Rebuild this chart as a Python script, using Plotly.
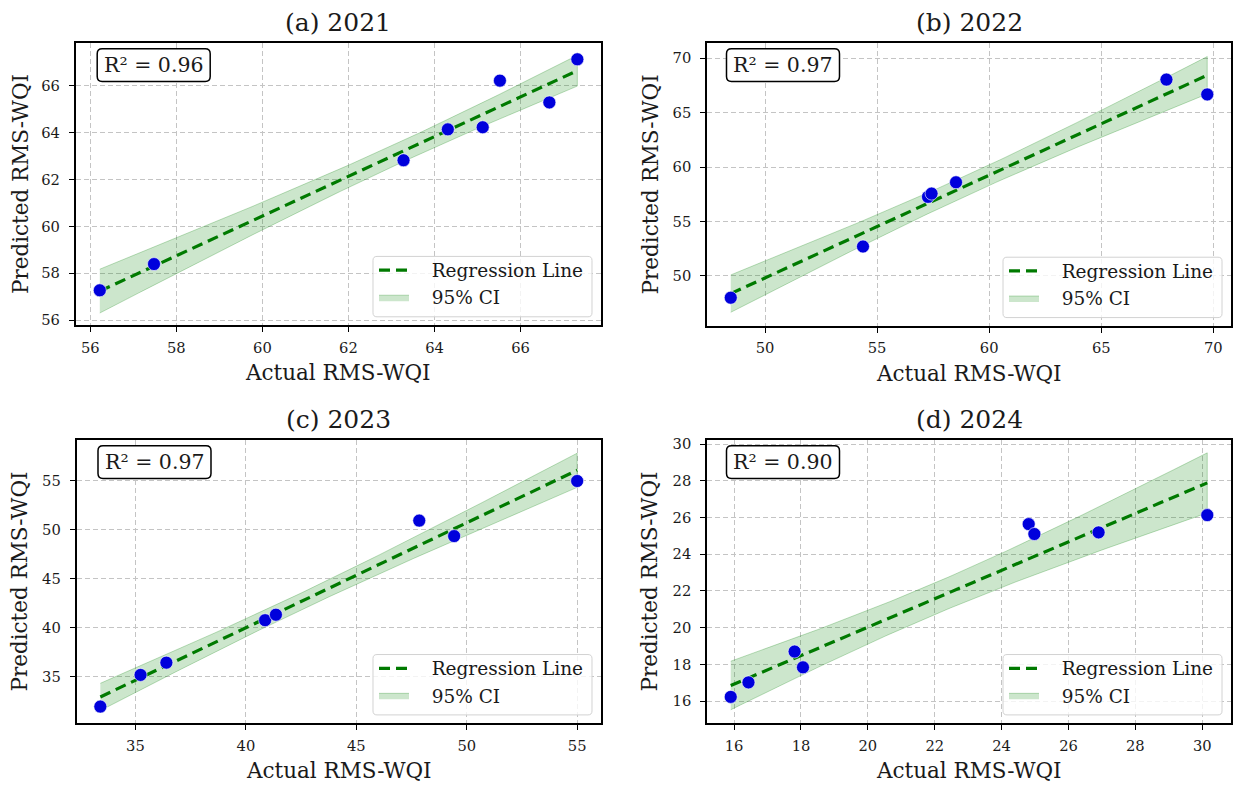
import numpy as np
import plotly.graph_objects as go

# ---------------- data ----------------
titles = ["(a) 2021", "(b) 2022", "(c) 2023", "(d) 2024"]
r2_labels = ["R\u00b2 = 0.96", "R\u00b2 = 0.97", "R\u00b2 = 0.97", "R\u00b2 = 0.90"]

actual_2021 = [56.22, 57.48, 63.28, 64.31, 65.12, 65.52, 66.67, 67.32]
pred_2021 = [57.27, 58.39, 62.82, 64.14, 64.23, 66.22, 65.29, 67.13]

actual_2022 = [48.47, 54.37, 57.27, 57.43, 58.52, 67.91, 69.73]
pred_2022 = [48.00, 52.70, 57.26, 57.56, 58.60, 68.03, 66.67]

actual_2023 = [33.41, 35.23, 36.40, 40.87, 41.36, 47.85, 49.43, 55.00]
pred_2023 = [31.97, 35.20, 36.45, 40.78, 41.34, 50.94, 49.36, 54.98]

actual_2024 = [15.90, 16.43, 17.81, 18.06, 24.81, 24.98, 26.90, 30.15]
pred_2024 = [16.23, 17.02, 18.70, 17.84, 25.64, 25.10, 25.19, 26.13]

actual_sets = [actual_2021, actual_2022, actual_2023, actual_2024]
pred_sets = [pred_2021, pred_2022, pred_2023, pred_2024]

x_label = "Actual RMS-WQI"
y_label = "Predicted RMS-WQI"
legend_names = ["Regression Line", "95% CI"]

# ---------------- layout geometry (pixels) ----------------
W, H = 1235, 788
boxes = [  # left, right, top, bottom
    (75.7, 601.0, 38.3, 323.5),
    (707.0, 1231.0, 38.3, 324.3),
    (76.5, 601.0, 439.3, 725.7),
    (707.0, 1231.0, 439.3, 725.7),
]
x_ranges = [[55.66, 67.87], [47.41, 70.79], [32.33, 56.08], [15.19, 30.86]]
y_ranges = [[55.78, 67.83], [45.40, 71.40], [30.26, 59.18], [14.79, 30.23]]
x_dticks = [2, 5, 5, 2]
y_dticks = [2, 5, 5, 2]
ylabel_x = [20, 650, 20, 650]

FONT = "DejaVu Serif"
TXT = "#1a1a1a"


def rounded_rect(x0, y0, x1, y1, r):
    # pixel coords (y downward) -> paper coords path
    def P(x, y):
        return f"{x / W:.6f},{1 - y / H:.6f}"
    return (
        f"M{P(x0 + r, y0)} L{P(x1 - r, y0)} Q{P(x1, y0)} {P(x1, y0 + r)} "
        f"L{P(x1, y1 - r)} Q{P(x1, y1)} {P(x1 - r, y1)} "
        f"L{P(x0 + r, y1)} Q{P(x0, y1)} {P(x0, y1 - r)} "
        f"L{P(x0, y0 + r)} Q{P(x0, y0)} {P(x0 + r, y0)} Z"
    )


fig = go.Figure()
annotations = []
shapes = []
layout = dict(
    width=W, height=H,
    margin=dict(l=0, r=0, t=0, b=0),
    paper_bgcolor="white", plot_bgcolor="white",
    font=dict(family=FONT, color=TXT, size=15),
)

for i in range(4):
    xs = np.array(actual_sets[i], dtype=float)
    ys = np.array(pred_sets[i], dtype=float)
    n = len(xs)
    slope, intercept = np.polyfit(xs, ys, 1)
    grid = np.linspace(xs.min(), xs.max(), 100)
    fit = slope * grid + intercept
    resid = ys - (slope * xs + intercept)
    s = np.sqrt(np.sum(resid ** 2) / (n - 2))
    sxx = np.sum((xs - xs.mean()) ** 2)
    se = s * np.sqrt(1.0 / n + (grid - xs.mean()) ** 2 / sxx)
    upper = fit + 1.96 * se
    lower = fit - 1.96 * se

    sfx = "" if i == 0 else str(i + 1)
    xa, ya = "x" + sfx, "y" + sfx
    leg = "legend" + sfx

    fig.add_trace(go.Scatter(
        x=np.concatenate([grid, grid[::-1]]),
        y=np.concatenate([upper, lower[::-1]]),
        fill="toself", fillcolor="rgba(0,128,0,0.2)",
        line=dict(color="rgba(0,128,0,0.25)", width=1),
        mode="lines", name="   " + legend_names[1], legend=leg, legendrank=2,
        xaxis=xa, yaxis=ya, hoverinfo="skip",
    ))
    fig.add_trace(go.Scatter(
        x=grid, y=fit, mode="lines", name="   " + legend_names[0],
        line=dict(color="#007a00", width=3.2, dash="11px,6px"),
        legend=leg, legendrank=1, xaxis=xa, yaxis=ya,
    ))
    fig.add_trace(go.Scatter(
        x=xs, y=ys, mode="markers", showlegend=False,
        marker=dict(color="#0000dc", size=13, line=dict(color="white", width=0.6)),
        xaxis=xa, yaxis=ya,
    ))

    L, R, T, B = boxes[i]
    axis_common = dict(
        showline=True, linecolor="black", linewidth=1.6, mirror=True,
        ticks="outside", ticklen=5, tickwidth=1.2, tickcolor="black",
        showgrid=True, gridcolor="#c4c4c4", gridwidth=1, griddash="5px,3px",
        zeroline=False, tickfont=dict(family=FONT, size=14.7, color=TXT),
    )
    layout["xaxis" + sfx] = dict(
        axis_common, domain=[L / W, R / W], range=x_ranges[i],
        anchor=ya, dtick=x_dticks[i], tick0=0, ticklabelstandoff=3,
    )
    layout["yaxis" + sfx] = dict(
        axis_common, domain=[1 - B / H, 1 - T / H], range=y_ranges[i],
        anchor=xa, dtick=y_dticks[i], tick0=0, ticklabelstandoff=6,
    )
    # legend: rounded frame drawn as a shape, legend itself transparent
    lx1, ly1 = R - 9, B - 8.5
    lx0, ly0 = lx1 - 219, ly1 - 61
    shapes.append(dict(
        type="path", xref="paper", yref="paper",
        path=rounded_rect(lx0, ly0, lx1, ly1, 4),
        line=dict(color="#d2d2d2", width=1), fillcolor="rgba(255,255,255,0.8)",
        layer="above",
    ))
    layout[leg] = dict(
        x=(lx0 + 1) / W, y=1 - ((ly0 + ly1) / 2 - 2.5) / H,
        xanchor="left", yanchor="middle",
        xref="paper", yref="paper",
        bgcolor="rgba(0,0,0,0)", borderwidth=0,
        font=dict(family=FONT, size=18.5, color=TXT),
        traceorder="normal", itemwidth=30, tracegroupgap=0,
    )

    dref = xa + " domain"
    yref = ya + " domain"
    annotations.append(dict(
        text=titles[i], xref=dref, yref=yref, x=0.5, y=1, yshift=20,
        xanchor="center", yanchor="middle", showarrow=False,
        font=dict(family=FONT, size=25, color=TXT),
    ))
    annotations.append(dict(
        text=x_label, xref=dref, yref=yref, x=0.5, y=0, yshift=-47,
        xanchor="center", yanchor="middle", showarrow=False,
        font=dict(family=FONT, size=21.5, color=TXT),
    ))
    annotations.append(dict(
        text=y_label, xref="paper", yref=yref, x=ylabel_x[i] / W, y=0.5,
        xanchor="center", yanchor="middle", textangle=-90, showarrow=False,
        font=dict(family=FONT, size=21.5, color=TXT),
    ))
    # R^2 box with rounded corners
    bx0 = L + (21.5 if i in (0, 2) else 19.5)
    by0 = T + 6
    bx1, by1 = bx0 + 113, by0 + 33
    shapes.append(dict(
        type="path", xref="paper", yref="paper",
        path=rounded_rect(bx0, by0, bx1, by1, 5),
        line=dict(color="black", width=1.5), fillcolor="white", layer="above",
    ))
    annotations.append(dict(
        text=r2_labels[i], xref="paper", yref="paper",
        x=(bx0 + bx1) / 2 / W, y=1 - (by0 + by1) / 2 / H,
        xanchor="center", yanchor="middle", showarrow=False,
        font=dict(family=FONT, size=20.5, color=TXT),
    ))

layout["annotations"] = annotations
layout["shapes"] = shapes
layout["showlegend"] = True
fig.update_layout(**layout)
fig.write_html("out.html")
